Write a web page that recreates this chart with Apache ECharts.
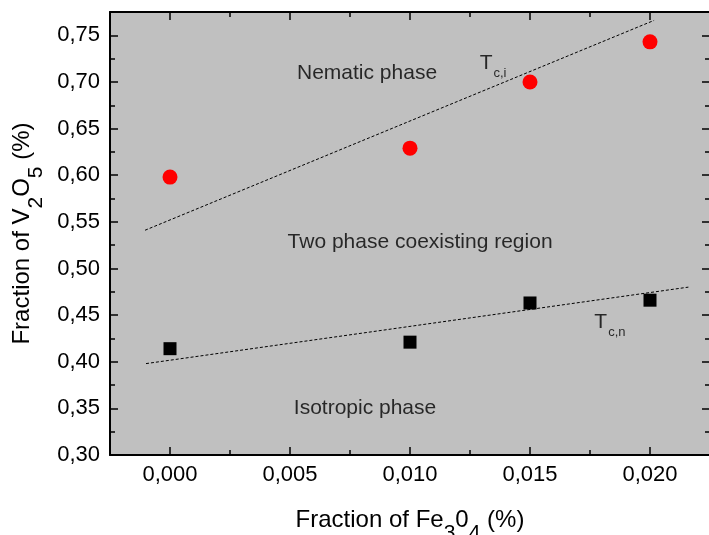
<!DOCTYPE html>
<html>
<head>
<meta charset="utf-8">
<script src="https://cdn.jsdelivr.net/npm/echarts@6/dist/echarts.min.js"></script>
<style>
  html, body { margin: 0; padding: 0; background: #ffffff; }
  #chart { width: 709px; height: 535px; }
</style>
</head>
<body>
<div id="chart"></div>
<script>
// Fe3O4 content of the samples
const fe3o4 = [0.000, 0.010, 0.015, 0.020];
// V2O5 fraction at the nematic / two-phase boundary (Tc,i)
const tcI = [0.598, 0.629, 0.700, 0.743];
// V2O5 fraction at the two-phase / isotropic boundary (Tc,n)
const tcN = [0.414, 0.421, 0.463, 0.466];

// linear guides through each boundary (end points)
const fitIx = [-0.00104, 0.02017];
const fitIy = [0.541, 0.766];
const fitNx = [-0.0010, 0.0216];
const fitNy = [0.398, 0.480];

// axis ticks
const xTicks = [0.000, 0.005, 0.010, 0.015, 0.020];
const xMinorTicks = [0.0025, 0.0075, 0.0125, 0.0175];
const yTicks = [0.30, 0.35, 0.40, 0.45, 0.50, 0.55, 0.60, 0.65, 0.70, 0.75];
const yMinorTicks = [0.325, 0.375, 0.425, 0.475, 0.525, 0.575, 0.625, 0.675, 0.725];

// region annotations
const regionNames = ['Nematic phase', 'Two phase coexisting region', 'Isotropic phase'];
const regionX = [0.00821, 0.01042, 0.008125];
const regionY = [0.709, 0.5285, 0.3505];

// boundary annotations
const curveNames = ['{t|T}{s|c,i}', '{t|T}{s|c,n}'];
const curveX = [0.01346, 0.01833];
const curveY = [0.720, 0.4425];

const X_MIN = -0.0025, X_MAX = 0.0225;
const Y_MIN = 0.30, Y_MAX = 0.775;
const FONT = 'Liberation Sans, Arial, Helvetica, sans-serif';

const chart = echarts.init(document.getElementById('chart'));

function xAxisDef(position, ticks, len, withLine, withLabels, extra) {
  return Object.assign({
    type: 'value', position: position, min: X_MIN, max: X_MAX,
    axisLine: { show: withLine, onZero: false, lineStyle: { color: '#000', width: 2 } },
    axisTick: { show: true, inside: true, length: len, customValues: ticks,
                lineStyle: { color: '#000', width: 1.5 } },
    axisLabel: withLabels ? {
      show: true, customValues: ticks, margin: 9, color: '#000',
      fontFamily: FONT, fontSize: 22,
      formatter: v => v.toFixed(3).replace('.', ',')
    } : { show: false },
    splitLine: { show: false }
  }, extra || {});
}

function yAxisDef(position, ticks, len, withLine, withLabels, extra) {
  return Object.assign({
    type: 'value', position: position, min: Y_MIN, max: Y_MAX,
    axisLine: { show: withLine, onZero: false, lineStyle: { color: '#000', width: 2 } },
    axisTick: { show: true, inside: true, length: len, customValues: ticks,
                lineStyle: { color: '#000', width: 1.5 } },
    axisLabel: withLabels ? {
      show: true, customValues: ticks, margin: 10, color: '#000',
      fontFamily: FONT, fontSize: 22,
      formatter: v => v.toFixed(2).replace('.', ',')
    } : { show: false },
    splitLine: { show: false }
  }, extra || {});
}

const titleRich = {
  m: { fontSize: 24, lineHeight: 26, color: '#000', fontFamily: FONT },
  s: { fontSize: 21, lineHeight: 21, padding: [26, 0, 0, 0], color: '#000', fontFamily: FONT }
};

const xName = {
  name: '{m|Fraction of Fe}{s|3}{m|0}{s|4}{m| (%)}',
  nameLocation: 'middle', nameGap: 52,
  nameTextStyle: { color: '#000', fontFamily: FONT, rich: titleRich }
};
const yName = {
  name: '{m|Fraction of V}{s|2}{m|O}{s|5}{m| (%)}',
  nameLocation: 'middle', nameGap: 67,
  nameTextStyle: { color: '#000', fontFamily: FONT, rich: titleRich }
};

const option = {
  backgroundColor: '#ffffff',
  animation: false,
  grid: {
    left: 110, right: -1, top: 12, bottom: 80,
    containLabel: false, outerBoundsMode: 'none',
    show: true, backgroundColor: '#c0c0c0', borderWidth: 0
  },
  xAxis: [
    xAxisDef('bottom', xTicks, 8, true, true, xName),
    xAxisDef('bottom', xMinorTicks, 5, false, false),
    xAxisDef('top', xTicks, 8, true, false),
    xAxisDef('top', xMinorTicks, 5, false, false)
  ],
  yAxis: [
    yAxisDef('left', yTicks, 8, true, true, yName),
    yAxisDef('left', yMinorTicks, 5, false, false),
    yAxisDef('right', yTicks, 8, true, false),
    yAxisDef('right', yMinorTicks, 5, false, false)
  ],
  series: [
    {
      name: 'fit Tc,i', type: 'line', xAxisIndex: 0, yAxisIndex: 0,
      data: fitIx.map((x, i) => [x, fitIy[i]]),
      symbol: 'none', silent: true,
      lineStyle: { color: '#000', width: 1, type: [3, 2] }
    },
    {
      name: 'fit Tc,n', type: 'line', xAxisIndex: 0, yAxisIndex: 0,
      data: fitNx.map((x, i) => [x, fitNy[i]]),
      symbol: 'none', silent: true,
      lineStyle: { color: '#000', width: 1, type: [3, 2] }
    },
    {
      name: 'Tc,i', type: 'scatter', xAxisIndex: 0, yAxisIndex: 0,
      data: fe3o4.map((x, i) => [x, tcI[i]]),
      symbol: 'circle', symbolSize: 15,
      itemStyle: { color: '#ff0000', opacity: 1 }
    },
    {
      name: 'Tc,n', type: 'scatter', xAxisIndex: 0, yAxisIndex: 0,
      data: fe3o4.map((x, i) => [x, tcN[i]]),
      symbol: 'rect', symbolSize: 13,
      itemStyle: { color: '#000000', opacity: 1 }
    },
    {
      name: 'regions', type: 'scatter', xAxisIndex: 0, yAxisIndex: 0,
      data: regionNames.map((n, i) => ({ value: [regionX[i], regionY[i]], name: n })),
      symbolSize: 0, silent: true,
      label: {
        show: true, position: 'inside', formatter: p => p.name,
        color: '#000', fontFamily: FONT, fontSize: 21
      }
    },
    {
      name: 'boundaries', type: 'scatter', xAxisIndex: 0, yAxisIndex: 0,
      data: curveNames.map((n, i) => ({ value: [curveX[i], curveY[i]], name: n })),
      symbolSize: 0, silent: true,
      label: {
        show: true, position: 'inside', formatter: p => p.name,
        color: '#000', fontFamily: FONT,
        rich: {
          t: { fontSize: 21, lineHeight: 22, color: '#000', fontFamily: FONT },
          s: { fontSize: 13, lineHeight: 13, padding: [20, 0, 0, 1], color: '#000', fontFamily: FONT }
        }
      }
    }
  ]
};

chart.setOption(option);
</script>
</body>
</html>
